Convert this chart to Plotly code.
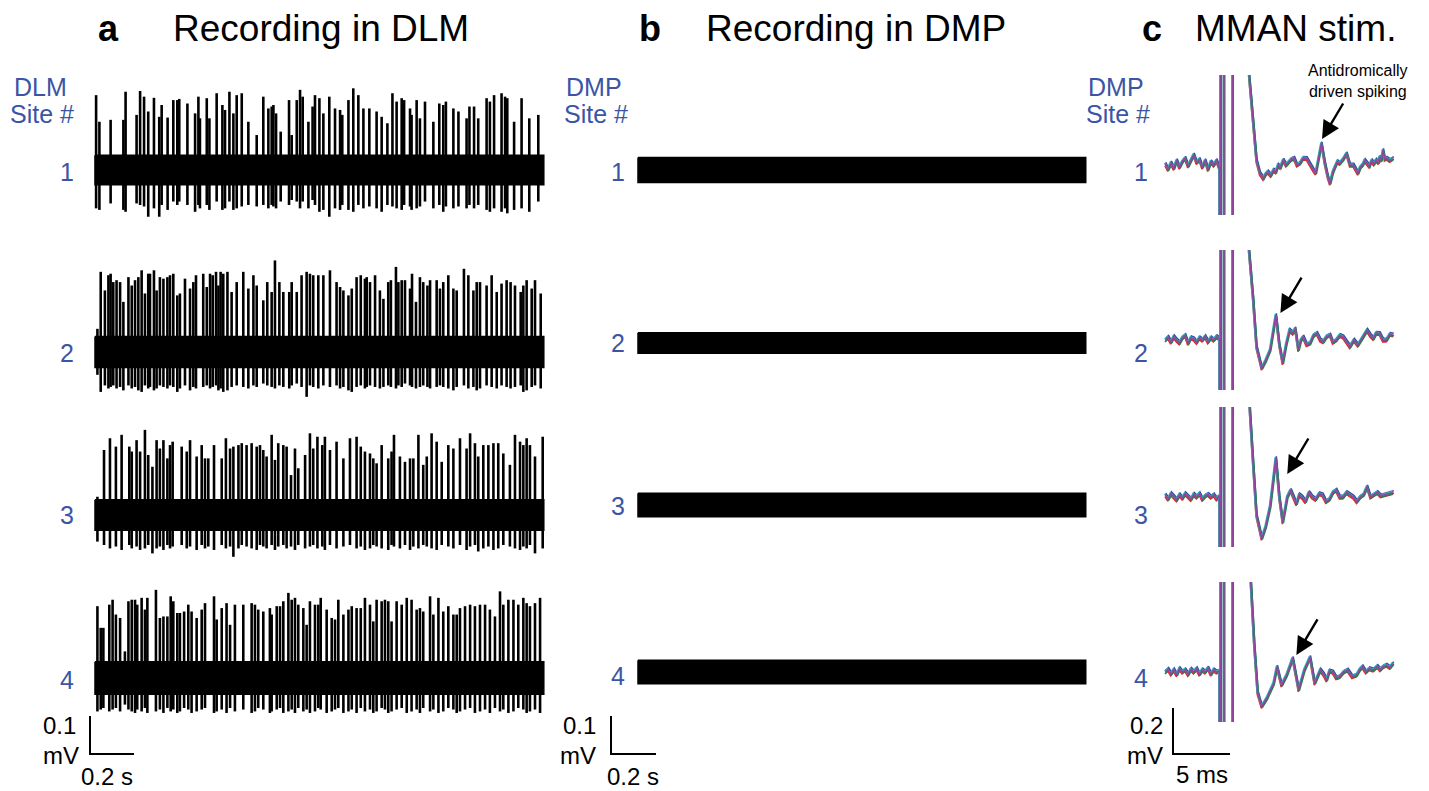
import plotly.graph_objects as go

W, H = 1429, 791

# ---------------- data ----------------
SITES = ["1", "2", "3", "4"]

DLM_DURATION_S = 2.04
DMP_DURATION_S = 1.99
DLM_BAND_MV = [0.039, 0.041, 0.040, 0.043]
DMP_BAND_MV = [0.033, 0.027, 0.031, 0.031]

# DLM site 1 spikes: time (s), positive peak (mV), negative peak (mV)
dlm1_t = [0.005, 0.020, 0.071, 0.129, 0.139, 0.189, 0.205, 0.223, 0.242, 0.268,
          0.292, 0.303, 0.330, 0.356, 0.374, 0.383, 0.420, 0.455, 0.470, 0.477,
          0.508, 0.520, 0.553, 0.579, 0.591, 0.611, 0.629, 0.644, 0.667, 0.697,
          0.735, 0.765, 0.788, 0.803, 0.811, 0.823, 0.844, 0.882, 0.894, 0.917,
          0.932, 0.944, 0.970, 0.989, 1.000, 1.020, 1.038, 1.065, 1.091, 1.114,
          1.124, 1.152, 1.174, 1.197, 1.220, 1.247, 1.280, 1.303, 1.329, 1.352,
          1.371, 1.394, 1.405, 1.432, 1.439, 1.462, 1.477, 1.500, 1.538, 1.565,
          1.583, 1.595, 1.629, 1.652, 1.689, 1.702, 1.723, 1.742, 1.780, 1.795,
          1.814, 1.848, 1.864, 1.874, 1.905, 1.939, 1.974, 2.015]
dlm1_up = [0.197, 0.127, 0.132, 0.132, 0.206, 0.145, 0.208, 0.193, 0.154, 0.190,
           0.140, 0.171, 0.138, 0.184, 0.184, 0.187, 0.175, 0.149, 0.193, 0.136,
           0.189, 0.136, 0.202, 0.171, 0.158, 0.206, 0.149, 0.197, 0.202, 0.127,
           0.092, 0.193, 0.162, 0.167, 0.171, 0.149, 0.101, 0.184, 0.092, 0.184,
           0.211, 0.193, 0.127, 0.167, 0.197, 0.189, 0.149, 0.193, 0.162, 0.158,
           0.145, 0.184, 0.215, 0.197, 0.162, 0.162, 0.154, 0.140, 0.123, 0.202,
           0.180, 0.189, 0.184, 0.162, 0.145, 0.184, 0.136, 0.180, 0.127, 0.175,
           0.171, 0.180, 0.162, 0.154, 0.136, 0.167, 0.167, 0.136, 0.189, 0.180,
           0.197, 0.202, 0.193, 0.189, 0.127, 0.189, 0.136, 0.145]
dlm1_dn = [-0.101, -0.105, -0.088, -0.105, -0.110, -0.088, -0.092, -0.096, -0.123, -0.101,
           -0.123, -0.092, -0.105, -0.083, -0.092, -0.083, -0.092, -0.110, -0.092, -0.101,
           -0.092, -0.105, -0.083, -0.105, -0.101, -0.083, -0.105, -0.101, -0.096, -0.092,
           -0.096, -0.092, -0.101, -0.092, -0.096, -0.101, -0.083, -0.092, -0.079, -0.083,
           -0.101, -0.083, -0.101, -0.079, -0.092, -0.110, -0.105, -0.123, -0.101, -0.105,
           -0.092, -0.105, -0.110, -0.092, -0.101, -0.096, -0.101, -0.110, -0.092, -0.096,
           -0.101, -0.105, -0.092, -0.096, -0.105, -0.101, -0.096, -0.083, -0.101, -0.092,
           -0.110, -0.096, -0.101, -0.096, -0.101, -0.092, -0.101, -0.092, -0.105, -0.110,
           -0.101, -0.110, -0.101, -0.114, -0.105, -0.101, -0.110, -0.083]

dlm2_t = [0.011, 0.026, 0.045, 0.061, 0.071, 0.083, 0.098, 0.114, 0.129, 0.152,
          0.167, 0.182, 0.197, 0.212, 0.227, 0.242, 0.250, 0.268, 0.280, 0.295,
          0.311, 0.329, 0.341, 0.356, 0.374, 0.386, 0.409, 0.432, 0.447, 0.459,
          0.492, 0.508, 0.523, 0.535, 0.550, 0.561, 0.571, 0.583, 0.602, 0.621,
          0.644, 0.674, 0.697, 0.720, 0.735, 0.765, 0.783, 0.803, 0.818, 0.838,
          0.856, 0.883, 0.894, 0.917, 0.939, 0.962, 0.977, 0.992, 1.015, 1.038,
          1.068, 1.098, 1.114, 1.129, 1.152, 1.167, 1.189, 1.208, 1.227, 1.235,
          1.250, 1.273, 1.295, 1.311, 1.333, 1.345, 1.368, 1.379, 1.394, 1.409,
          1.432, 1.441, 1.459, 1.477, 1.492, 1.511, 1.523, 1.553, 1.568, 1.583,
          1.606, 1.629, 1.644, 1.677, 1.697, 1.720, 1.735, 1.750, 1.780, 1.803,
          1.826, 1.848, 1.871, 1.889, 1.909, 1.935, 1.947, 1.962, 1.985, 2.000, 2.026]
dlm2_up = [0.061, 0.211, 0.162, 0.202, 0.206, 0.184, 0.189, 0.184, 0.132, 0.197,
           0.175, 0.189, 0.197, 0.215, 0.154, 0.206, 0.206, 0.215, 0.162, 0.197,
           0.193, 0.197, 0.202, 0.206, 0.149, 0.154, 0.193, 0.167, 0.184, 0.202,
           0.206, 0.171, 0.206, 0.202, 0.211, 0.175, 0.211, 0.206, 0.211, 0.158,
           0.184, 0.211, 0.167, 0.202, 0.175, 0.136, 0.184, 0.158, 0.241, 0.184,
           0.158, 0.158, 0.184, 0.158, 0.202, 0.211, 0.206, 0.202, 0.202, 0.202,
           0.215, 0.184, 0.171, 0.162, 0.149, 0.167, 0.197, 0.202, 0.193, 0.197,
           0.184, 0.202, 0.162, 0.140, 0.184, 0.189, 0.224, 0.184, 0.189, 0.189,
           0.167, 0.206, 0.132, 0.197, 0.184, 0.175, 0.189, 0.189, 0.167, 0.184,
           0.202, 0.167, 0.162, 0.219, 0.202, 0.162, 0.184, 0.184, 0.175, 0.202,
           0.158, 0.180, 0.189, 0.184, 0.175, 0.158, 0.175, 0.189, 0.167, 0.189, 0.154]
dlm2_dn = [-0.060, -0.105, -0.088, -0.096, -0.092, -0.088, -0.096, -0.092, -0.101, -0.088,
           -0.096, -0.092, -0.101, -0.105, -0.088, -0.096, -0.092, -0.101, -0.096, -0.088,
           -0.092, -0.096, -0.088, -0.092, -0.105, -0.096, -0.088, -0.101, -0.092, -0.096,
           -0.092, -0.088, -0.096, -0.092, -0.088, -0.101, -0.096, -0.105, -0.101, -0.092,
           -0.088, -0.092, -0.096, -0.088, -0.092, -0.083, -0.088, -0.092, -0.096, -0.088,
           -0.092, -0.096, -0.088, -0.083, -0.092, -0.118, -0.088, -0.092, -0.096, -0.088,
           -0.092, -0.088, -0.096, -0.092, -0.101, -0.105, -0.092, -0.088, -0.096, -0.092,
           -0.088, -0.092, -0.096, -0.092, -0.088, -0.092, -0.096, -0.088, -0.092, -0.083,
           -0.088, -0.092, -0.096, -0.092, -0.088, -0.092, -0.096, -0.092, -0.088, -0.092,
           -0.096, -0.101, -0.092, -0.088, -0.096, -0.092, -0.101, -0.096, -0.088, -0.092,
           -0.096, -0.088, -0.092, -0.096, -0.092, -0.088, -0.105, -0.101, -0.092, -0.088, -0.096]

dlm3_t = [0.011, 0.041, 0.068, 0.095, 0.121, 0.156, 0.167, 0.189, 0.205, 0.227,
          0.242, 0.261, 0.280, 0.295, 0.311, 0.329, 0.341, 0.353, 0.394, 0.417,
          0.432, 0.462, 0.485, 0.500, 0.515, 0.541, 0.576, 0.595, 0.614, 0.629,
          0.652, 0.667, 0.689, 0.712, 0.735, 0.750, 0.765, 0.780, 0.803, 0.818,
          0.833, 0.856, 0.871, 0.891, 0.909, 0.924, 0.955, 0.977, 0.992, 1.011,
          1.033, 1.045, 1.068, 1.098, 1.129, 1.159, 1.189, 1.208, 1.227, 1.250,
          1.265, 1.280, 1.303, 1.333, 1.348, 1.359, 1.386, 1.409, 1.432, 1.447,
          1.470, 1.492, 1.508, 1.530, 1.553, 1.576, 1.606, 1.629, 1.659, 1.689,
          1.705, 1.727, 1.742, 1.765, 1.788, 1.811, 1.833, 1.856, 1.886, 1.909,
          1.932, 1.947, 1.962, 1.977, 2.000, 2.035]
dlm3_up = [0.048, 0.171, 0.202, 0.180, 0.211, 0.180, 0.167, 0.197, 0.167, 0.224,
           0.158, 0.127, 0.197, 0.175, 0.197, 0.149, 0.184, 0.193, 0.180, 0.167,
           0.197, 0.154, 0.184, 0.149, 0.149, 0.184, 0.149, 0.202, 0.175, 0.180,
           0.184, 0.189, 0.184, 0.189, 0.180, 0.184, 0.171, 0.154, 0.211, 0.145,
           0.189, 0.184, 0.180, 0.105, 0.175, 0.123, 0.158, 0.215, 0.175, 0.206,
           0.184, 0.206, 0.171, 0.193, 0.149, 0.202, 0.206, 0.180, 0.167, 0.162,
           0.149, 0.136, 0.184, 0.149, 0.167, 0.211, 0.154, 0.140, 0.149, 0.149,
           0.211, 0.132, 0.154, 0.215, 0.193, 0.140, 0.184, 0.175, 0.202, 0.175,
           0.215, 0.189, 0.154, 0.184, 0.184, 0.189, 0.189, 0.162, 0.132, 0.211,
           0.193, 0.184, 0.202, 0.184, 0.154, 0.206]
dlm3_dn = [-0.070, -0.079, -0.088, -0.083, -0.092, -0.079, -0.088, -0.083, -0.092, -0.088,
           -0.079, -0.101, -0.088, -0.083, -0.092, -0.079, -0.088, -0.083, -0.079, -0.088,
           -0.083, -0.092, -0.079, -0.088, -0.083, -0.092, -0.079, -0.088, -0.083, -0.110,
           -0.088, -0.079, -0.083, -0.088, -0.092, -0.079, -0.083, -0.088, -0.079, -0.092,
           -0.083, -0.079, -0.088, -0.083, -0.092, -0.079, -0.088, -0.083, -0.079, -0.088,
           -0.083, -0.092, -0.079, -0.088, -0.083, -0.079, -0.088, -0.083, -0.092, -0.088,
           -0.079, -0.083, -0.088, -0.092, -0.079, -0.083, -0.088, -0.079, -0.092, -0.083,
           -0.088, -0.079, -0.083, -0.088, -0.092, -0.079, -0.083, -0.088, -0.079, -0.092,
           -0.083, -0.079, -0.096, -0.088, -0.083, -0.092, -0.088, -0.079, -0.083, -0.088,
           -0.092, -0.083, -0.088, -0.079, -0.101, -0.088]

dlm4_t = [0.011, 0.026, 0.038, 0.065, 0.080, 0.095, 0.114, 0.136, 0.152, 0.167,
          0.182, 0.192, 0.212, 0.227, 0.238, 0.277, 0.295, 0.311, 0.329, 0.344,
          0.356, 0.374, 0.386, 0.405, 0.424, 0.439, 0.462, 0.485, 0.500, 0.541,
          0.553, 0.576, 0.598, 0.614, 0.636, 0.674, 0.712, 0.727, 0.742, 0.765,
          0.795, 0.803, 0.826, 0.841, 0.856, 0.879, 0.894, 0.909, 0.924, 0.947,
          0.962, 0.977, 1.000, 1.015, 1.026, 1.053, 1.076, 1.091, 1.106, 1.129,
          1.152, 1.167, 1.189, 1.208, 1.227, 1.250, 1.265, 1.280, 1.303, 1.318,
          1.333, 1.348, 1.371, 1.394, 1.417, 1.439, 1.462, 1.477, 1.492, 1.523,
          1.538, 1.561, 1.583, 1.606, 1.629, 1.644, 1.659, 1.682, 1.705, 1.727,
          1.750, 1.773, 1.795, 1.818, 1.841, 1.856, 1.879, 1.902, 1.924, 1.947,
          1.962, 1.977, 2.000, 2.023]
dlm4_up = [0.189, 0.132, 0.132, 0.193, 0.206, 0.167, 0.158, 0.070, 0.202, 0.206,
           0.206, 0.193, 0.211, 0.180, 0.211, 0.232, 0.158, 0.162, 0.162, 0.215,
           0.202, 0.171, 0.171, 0.175, 0.193, 0.175, 0.158, 0.180, 0.197, 0.215,
           0.154, 0.184, 0.197, 0.140, 0.193, 0.193, 0.197, 0.193, 0.180, 0.175,
           0.184, 0.167, 0.189, 0.189, 0.202, 0.224, 0.206, 0.211, 0.193, 0.184,
           0.140, 0.202, 0.193, 0.193, 0.211, 0.180, 0.158, 0.154, 0.206, 0.167,
           0.180, 0.189, 0.184, 0.184, 0.211, 0.193, 0.149, 0.206, 0.202, 0.206,
           0.202, 0.149, 0.202, 0.193, 0.211, 0.206, 0.180, 0.184, 0.175, 0.215,
           0.167, 0.211, 0.175, 0.189, 0.167, 0.167, 0.184, 0.189, 0.193, 0.189,
           0.193, 0.193, 0.180, 0.162, 0.228, 0.193, 0.206, 0.206, 0.193, 0.211,
           0.197, 0.189, 0.197, 0.211]
dlm4_dn = [-0.088, -0.083, -0.079, -0.088, -0.083, -0.079, -0.088, -0.070, -0.083, -0.088,
           -0.092, -0.083, -0.088, -0.079, -0.092, -0.088, -0.083, -0.092, -0.079, -0.088,
           -0.083, -0.092, -0.088, -0.079, -0.083, -0.092, -0.088, -0.083, -0.079, -0.092,
           -0.088, -0.083, -0.092, -0.079, -0.088, -0.083, -0.092, -0.088, -0.079, -0.083,
           -0.092, -0.088, -0.083, -0.079, -0.092, -0.088, -0.083, -0.092, -0.079, -0.088,
           -0.083, -0.092, -0.088, -0.079, -0.083, -0.092, -0.088, -0.083, -0.079, -0.092,
           -0.088, -0.083, -0.092, -0.079, -0.088, -0.083, -0.092, -0.088, -0.079, -0.083,
           -0.092, -0.088, -0.083, -0.079, -0.092, -0.088, -0.083, -0.092, -0.079, -0.088,
           -0.083, -0.092, -0.088, -0.079, -0.083, -0.092, -0.088, -0.083, -0.079, -0.092,
           -0.088, -0.083, -0.092, -0.079, -0.088, -0.083, -0.092, -0.088, -0.079, -0.083,
           -0.092, -0.088, -0.083, -0.092]

# MMAN stimulation, averaged DMP responses: time (ms), voltage (mV)
# (stimulus artifact values are far off-scale and get clipped like in the original)
mman1_t = [0.2, 0.45, 0.7, 0.95, 1.2, 1.45, 1.7, 1.95, 2.2, 2.45, 2.7, 2.95, 3.2, 3.45, 3.7, 3.95, 4.2, 4.45, 4.7, 4.95,
           5.03, 5.06, 5.33, 5.36, 6.08, 6.12, 7.35,
           7.55, 7.9, 8.2, 8.5, 8.8, 9.0, 9.2, 9.45, 9.7, 9.9, 10.1, 10.3, 10.55, 10.8, 11.0, 11.25,
           11.5, 11.75, 12.0, 12.3, 12.6, 12.9, 13.2, 13.4, 13.6, 13.9, 14.2, 14.45, 14.65, 14.9, 15.1, 15.3, 15.5, 15.8,
           16.1, 16.4, 16.7, 16.9, 17.1, 17.3, 17.5, 17.7, 17.9, 18.1, 18.3, 18.5, 18.7, 18.9, 19.0, 19.15, 19.3, 19.45, 19.6, 19.9, 20.2]
mman1_v = [0.005, -0.02, 0.01, -0.015, 0.02, -0.01, 0.015, 0.03, -0.005, 0.02, 0.045, 0.01, 0.025, -0.01, 0.02, -0.02, 0.015, 0.0, 0.02, -0.015,
           -3, 3, 3, -3, -3, 3, 3,
           0.39, 0.19, 0.02, -0.036, -0.058, -0.04, -0.03, -0.045, -0.022, -0.03, 0.0, -0.01, 0.022, 0.0, 0.01, 0.025,
           0.03, 0.0, 0.007, 0.03, 0.029, 0.0, -0.022, -0.035, 0.022, 0.094, 0.007, -0.05, -0.08, -0.03, -0.007, 0.015, 0.007, 0.025,
           0.05, 0.0, 0.0, -0.02, -0.036, -0.01, 0.0, 0.02, 0.007, -0.005, 0.02, 0.005, 0.022, 0.01, 0.035, 0.02, 0.065, 0.025, 0.03, 0.02, 0.029]
mman2_t = [0.2, 0.45, 0.7, 0.95, 1.2, 1.45, 1.7, 1.95, 2.2, 2.45, 2.7, 2.95, 3.2, 3.45, 3.7, 3.95, 4.2, 4.45, 4.7, 4.95,
           5.03, 5.06, 5.33, 5.36, 6.08, 6.12, 7.35,
           7.54, 7.9, 8.2, 8.66, 9.0, 9.4, 9.9, 10.2, 10.5, 10.8,
           11.1, 11.4, 11.6, 11.87, 12.1, 12.3, 12.6, 12.9, 13.2, 13.5, 13.8, 14.06, 14.35, 14.65, 14.9, 15.2, 15.5, 15.8,
           16.1, 16.4, 16.75, 17.1, 17.5, 17.9, 18.2, 18.45, 18.7, 19.0, 19.3, 19.6, 19.9, 20.2]
mman2_v = [0.0, 0.012, -0.01, 0.015, 0.0, -0.012, 0.01, 0.02, -0.015, 0.01, 0.005, -0.01, 0.01, 0.0, 0.015, -0.008, 0.01, 0.0, 0.015, 0.005,
           -3, 3, 3, -3, -3, 3, 3,
           0.39, 0.18, -0.03, -0.123, -0.09, -0.043, 0.109, -0.02, -0.10, -0.02,
           0.043, 0.03, 0.05, -0.043, 0.0, 0.014, -0.02, -0.014, 0.02, 0.029, 0.0, -0.007, 0.015, 0.022, -0.01, 0.0, 0.02, 0.014,
           -0.005, -0.029, 0.0, -0.022, 0.01, 0.043, 0.02, 0.007, 0.03, 0.029, 0.0, 0.0, 0.025, 0.022]
mman3_t = [0.2, 0.45, 0.7, 0.95, 1.2, 1.45, 1.7, 1.95, 2.2, 2.45, 2.7, 2.95, 3.2, 3.45, 3.7, 3.95, 4.2, 4.45, 4.7, 4.95,
           5.03, 5.06, 5.33, 5.36, 6.08, 6.12, 7.35,
           7.6, 7.9, 8.2, 8.66, 9.0, 9.4, 9.9, 10.2, 10.5, 10.9,
           11.2, 11.45, 11.7, 11.95, 12.2, 12.5, 12.8, 13.1, 13.4, 13.7, 14.0, 14.3, 14.6, 14.9, 15.2, 15.5, 15.8, 16.1, 16.4,
           16.7, 17.0, 17.3, 17.6, 17.9, 18.2, 18.5, 18.8, 19.1, 19.4, 19.8, 20.2]
mman3_v = [0.01, -0.01, 0.015, 0.0, -0.012, 0.01, -0.005, 0.015, 0.0, -0.01, 0.012, 0.0, 0.015, -0.01, 0.005, 0.012, 0.0, 0.01, -0.008, 0.005,
           -3, 3, 3, -3, -3, 3, 3,
           0.39, 0.15, -0.08, -0.18, -0.13, -0.04, 0.17, 0.0, -0.11, 0.0,
           0.03, 0.0, -0.03, 0.01, 0.0, -0.02, 0.02, 0.0, -0.01, 0.015, 0.01, -0.02, -0.01, 0.02, 0.03, 0.0, 0.0, 0.02, 0.01,
           0.0, -0.02, 0.0, 0.01, 0.045, 0.0, 0.01, 0.02, 0.005, 0.01, 0.015, 0.02]
mman4_t = [0.2, 0.45, 0.7, 0.95, 1.2, 1.45, 1.7, 1.95, 2.2, 2.45, 2.7, 2.95, 3.2, 3.45, 3.7, 3.95, 4.2, 4.45, 4.7, 4.95,
           5.03, 5.06, 5.33, 5.36, 6.08, 6.12, 7.35,
           7.7, 8.0, 8.3, 8.66, 9.1, 9.7, 10.0, 10.4, 10.85, 11.38,
           11.9, 12.4, 12.9, 13.3, 13.8, 14.1, 14.35, 14.6, 14.9, 15.2, 15.5, 15.85, 16.2, 16.6, 16.99,
           17.25, 17.5, 17.8, 18.1, 18.45, 18.8, 19.05, 19.3, 19.6, 19.9, 20.2]
mman4_v = [0.0, 0.012, -0.008, 0.01, -0.012, 0.015, 0.0, 0.01, -0.01, 0.012, 0.0, 0.015, -0.01, 0.01, 0.0, 0.018, -0.01, 0.01, 0.0, 0.005,
           -3, 3, 3, -3, -3, 3, 3,
           0.39, 0.12, -0.09, -0.15, -0.115, -0.05, 0.023, -0.057, -0.013, 0.06,
           -0.078, 0.009, 0.064, -0.049, 0.009, -0.01, -0.035, 0.005, 0.0, -0.025, -0.02, 0.0, 0.009, -0.02, -0.013,
           0.01, 0.023, 0.0, 0.015, 0.009, 0.025, 0.01, 0.023, 0.03, 0.02, 0.038]

# Spike marked by the arrows in panel c: time (ms), voltage (mV)
arrow_t = [13.95, 10.3, 10.9, 11.7]
arrow_v = [0.113, 0.117, 0.10, 0.074]

SCALE_AB = (0.2, 0.1)   # s, mV
SCALE_C = (5, 0.2)      # ms, mV

# ---------------- styling / layout ----------------
FONT = "Liberation Sans, Arial, sans-serif"
BLUE = "#3A55A5"
TRACE_COLORS = ["#2E4BA3", "#E3262A", "#17884A", "#27B5B8", "#93449E"]
COLOR_DT = [0.04, -0.03, 0.06, -0.05, 0.0]
COLOR_DV = [0.007, -0.008, -0.004, 0.004, 0.0]

fig = go.Figure()
layout = {}
ax_count = [0]


def px_x(x):
    return x / W


def px_y(y):
    return 1 - y / H


def new_axes(x0, x1, y0, y1, t0_px, sx, v0_px, sy):
    ax_count[0] += 1
    n = ax_count[0]
    sfx = "" if n == 1 else str(n)
    layout["xaxis" + sfx] = dict(domain=[px_x(x0), px_x(x1)],
                                 range=[(x0 - t0_px) / sx, (x1 - t0_px) / sx],
                                 visible=False, anchor="y" + sfx, fixedrange=True)
    layout["yaxis" + sfx] = dict(domain=[px_y(y1), px_y(y0)],
                                 range=[(v0_px - y1) / sy, (v0_px - y0) / sy],
                                 visible=False, anchor="x" + sfx, fixedrange=True)
    return "x" + sfx, "y" + sfx


def add_band_and_spikes(xr, yr, dur, band, ts, ups, dns):
    fig.add_trace(go.Scatter(x=[0, dur, dur, 0, 0], y=[band, band, -band, -band, band],
                             fill="toself", fillcolor="black", mode="lines",
                             line=dict(color="black", width=1.5),
                             xaxis=xr, yaxis=yr, showlegend=False, hoverinfo="skip"))
    if ts:
        xs, ys = [], []
        for t, u, d in zip(ts, ups, dns):
            xs += [t, t, None]
            ys += [d, u, None]
        fig.add_trace(go.Scatter(x=xs, y=ys, mode="lines",
                                 line=dict(color="black", width=2.6),
                                 xaxis=xr, yaxis=yr, showlegend=False, hoverinfo="skip"))


def text(x, y, s, size=24, color="black", xanchor="center", yanchor="middle"):
    layout.setdefault("annotations", []).append(dict(
        x=px_x(x), y=px_y(y), xref="paper", yref="paper", text=s, showarrow=False,
        xanchor=xanchor, yanchor=yanchor, font=dict(family=FONT, size=size, color=color)))


def scale_bar(xr, yr, tx, vy):
    fig.add_trace(go.Scatter(x=[0, 0, tx], y=[vy, 0, 0], mode="lines",
                             line=dict(color="black", width=2),
                             xaxis=xr, yaxis=yr, showlegend=False, hoverinfo="skip"))


# ---- panel a: DLM ----
A_BASE = [170, 352, 515, 678]
dlm = [(dlm1_t, dlm1_up, dlm1_dn), (dlm2_t, dlm2_up, dlm2_dn),
       (dlm3_t, dlm3_up, dlm3_dn), (dlm4_t, dlm4_up, dlm4_dn)]
for i, b in enumerate(A_BASE):
    xr, yr = new_axes(86, 552, b - 120, b + 80, 95, 220, b, 380)
    t, u, d = dlm[i]
    add_band_and_spikes(xr, yr, DLM_DURATION_S, DLM_BAND_MV[i], t, u, d)
xr, yr = new_axes(60, 200, 700, 770, 90, 220, 754, 380)
scale_bar(xr, yr, SCALE_AB[0], SCALE_AB[1])

# ---- panel b: DMP ----
B_BASE = [170, 343, 505, 672]
for i, b in enumerate(B_BASE):
    xr, yr = new_axes(630, 1095, b - 60, b + 60, 638, 225, b, 380)
    add_band_and_spikes(xr, yr, DMP_DURATION_S, DMP_BAND_MV[i], [], [], [])
xr, yr = new_axes(590, 720, 700, 770, 611, 225, 754, 380)
scale_bar(xr, yr, SCALE_AB[0], SCALE_AB[1])

# ---- panel c: MMAN stimulation ----
C_BASE = [165, 340, 497, 672]
mman = [(mman1_t, mman1_v), (mman2_t, mman2_v), (mman3_t, mman3_v), (mman4_t, mman4_v)]
c_axes = []
for i, b in enumerate(C_BASE):
    xr, yr = new_axes(1150, 1412, b - 90, b + 50, 1163, 11.4, b, 230)
    c_axes.append((xr, yr))
    t, v = mman[i]
    for col, dt, dv in zip(TRACE_COLORS, COLOR_DT, COLOR_DV):
        fig.add_trace(go.Scatter(x=[tt + dt for tt in t], y=[vv + dv for vv in v], mode="lines",
                                 line=dict(color=col, width=1.6),
                                 xaxis=xr, yaxis=yr, showlegend=False, hoverinfo="skip"))
xr, yr = new_axes(1160, 1260, 700, 770, 1173, 11.4, 754, 230)
scale_bar(xr, yr, SCALE_C[0], SCALE_C[1])

# arrows pointing at the antidromic spike
for (xr, yr), at, av in zip(c_axes, arrow_t, arrow_v):
    layout.setdefault("annotations", []).append(dict(
        x=at, y=av, xref=xr, yref=yr, ax=22, ay=-37, axref="pixel", ayref="pixel",
        showarrow=True, arrowhead=2, arrowsize=1.5, arrowwidth=2.4, arrowcolor="black", text=""))

# ---- texts ----
text(108, 28, "<b>a</b>", 36)
text(171, 28, "Recording in DLM", 37, xanchor="left")
text(650, 28, "<b>b</b>", 36)
text(704, 28, "Recording in DMP", 37, xanchor="left")
text(1152, 28, "<b>c</b>", 36)
text(1193, 28, "MMAN stim.", 37, xanchor="left")

for cx, lab in [(40, "DLM"), (594, "DMP"), (1116, "DMP")]:
    text(cx, 87, lab, 25, BLUE)
    text(cx + 2, 114, "Site #", 25, BLUE)

for xr_px, ys in [(76, [172, 353, 515, 680]), (627, [172, 343, 506, 676]),
                  (1150, [172, 353, 515, 678])]:
    for lab, y in zip(SITES, ys):
        text(xr_px, y, lab, 25, BLUE, xanchor="right")

text(1358, 81, "Antidromically<br>driven spiking", 16)

# scale bar labels
text(78, 725, "0.1", 24, xanchor="right")
text(81, 755, "mV", 24, xanchor="right")
text(107, 776, "0.2 s", 24)
text(598, 725, "0.1", 24, xanchor="right")
text(598, 755, "mV", 24, xanchor="right")
text(633, 776, "0.2 s", 24)
text(1165, 725, "0.2", 24, xanchor="right")
text(1165, 755, "mV", 24, xanchor="right")
text(1202, 774, "5 ms", 24)

fig.update_layout(width=W, height=H, margin=dict(l=0, r=0, t=0, b=0),
                  paper_bgcolor="white", plot_bgcolor="rgba(0,0,0,0)",
                  showlegend=False, font=dict(family=FONT), **layout)

fig.write_html("out.html", config={"displayModeBar": False},
               post_script="document.body.style.margin='0';document.body.style.overflow='hidden';")
